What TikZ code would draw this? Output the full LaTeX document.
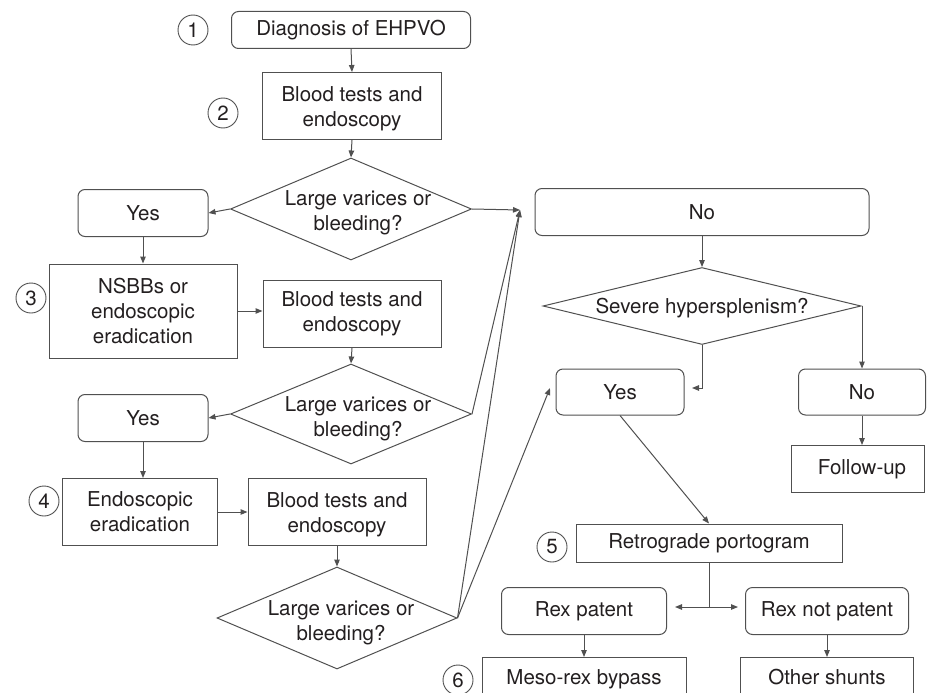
\documentclass[tikz,border=0pt]{standalone}
\usepackage{fontspec}
\setmainfont{TeX Gyre Heros}
\usetikzlibrary{shapes.geometric,arrows.meta}
\definecolor{ln}{HTML}{505050}
\definecolor{tx}{HTML}{231F20}
\begin{document}
\begin{tikzpicture}[x=1pt,y=-1pt,
  font=\fontsize{20.5}{25}\selectfont, text=tx,
  every node/.style={inner sep=0pt, align=center},
  box/.style={draw=ln, line width=1pt, rectangle},
  rbox/.style={draw=ln, line width=1pt, rectangle, rounded corners=7pt},
  dia/.style={draw=ln, line width=1pt, diamond},
  num/.style={draw=ln, line width=0.9pt, circle, minimum size=30pt},
  arr/.style={draw=ln, line width=1pt, -{Triangle[length=7pt,width=5.5pt]}},
  ln/.style={draw=ln, line width=1pt}]
\useasboundingbox (0,0) rectangle (929,693);
\clip (0,0) rectangle (929,693);
% numbers
\node[num] (c1) at (193,30) {1};
\node[num] (c2) at (223,113) {2};
\node[num] (c3) at (31,298) {3};
\node[num] (c4) at (44,501) {4};
\node[num] (c5) at (552,547) {5};
\node[num] (c6) at (458,680) {6};
% left column
\node[rbox, minimum width=239pt, minimum height=37pt] (diag) at (351,30) {Diagnosis of EHPVO};
\node[box, minimum width=179pt, minimum height=67pt] (bt1) at (352,106) {};
\node at (352,109) {Blood tests and\\endoscopy};
\node[dia, minimum width=241pt, minimum height=102pt] (d1) at (351,209) {};
\node at (358,213) {Large varices or\\bleeding?};
\node[rbox, minimum width=130pt, minimum height=47pt] (yes1) at (143,213) {Yes};
\node[box, minimum width=188pt, minimum height=94pt] (nsbb) at (143,311) {NSBBs or\\endoscopic\\eradication};
\node[box, minimum width=178pt, minimum height=67pt] (bt2) at (352,314) {Blood tests and\\endoscopy};
\node[dia, minimum width=241pt, minimum height=100pt] (d2) at (351,414) {};
\node at (358,419) {Large varices or\\bleeding?};
\node[rbox, minimum width=130pt, minimum height=47pt] (yes2) at (143,418) {Yes};
\node[box, minimum width=155pt, minimum height=67pt] (endo) at (140,512) {Endoscopic\\eradication};
\node[box, minimum width=178pt, minimum height=67pt] (bt3) at (337,512) {};
\node at (337,515) {Blood tests and\\endoscopy};
\node[dia, minimum width=240pt, minimum height=102pt] (d3) at (337,618) {};
\node at (341,623) {Large varices or\\bleeding?};
% right part
\node[rbox, minimum width=334pt, minimum height=47pt] (no1) at (702,212) {No};
\node[dia, minimum width=318pt, minimum height=77pt] (hyp) at (702,306) {};
\node at (702,308) {Severe hypersplenism?};
\node[rbox, minimum width=128pt, minimum height=46pt] (yesR) at (620,392) {Yes};
\node[rbox, minimum width=127pt, minimum height=46pt] (noR) at (862,392) {No};
\node[box, minimum width=133pt, minimum height=47pt] (fu) at (858,469) {\hspace{8pt}Follow-up};
\node[box, minimum width=266pt, minimum height=38pt] (ret) at (709,543) {Retrograde portogram};
\node[rbox, minimum width=165pt, minimum height=47pt] (rexp) at (584,611) {Rex patent};
\node[rbox, minimum width=163pt, minimum height=47pt] (rexn) at (827,611) {Rex not patent};
\node[box, minimum width=204pt, minimum height=48pt, anchor=north] (meso) at (584,657) {\raisebox{9pt}{Meso-rex bypass}};
\node[box, minimum width=173pt, minimum height=48pt, anchor=north] (oth) at (827,657) {\raisebox{9pt}{Other shunts}};
% coordinates
\coordinate (conv) at (520,210);
\coordinate (yt) at (550,388);
\coordinate (yk) at (692,388);
\coordinate (br) at (709,607);
% connectors
\draw[arr] (diag.south) -- (bt1.north);
\draw[arr] (bt1.south) -- (d1.north);
\draw[arr] (d1.west) -- (yes1.east);
\draw[arr] (d1.east) -- (conv);
\draw[arr] (yes1.south) -- (nsbb.north);
\draw[arr] (nsbb.east) -- (nsbb.east -| bt2.west);
\draw[arr] (bt2.south) -- (d2.north);
\draw[arr] (d2.west) -- (yes2.east);
\draw[arr] (d2.east) -- (conv);
\draw[arr] (yes2.south) -- (yes2.south |- endo.north);
\draw[arr] (endo.east) -- (bt3.west);
\draw[arr] (bt3.south) -- (d3.north);
\draw[arr] (d3.east) -- (conv);
\draw[arr] (d3.east) -- (yt);
\draw[arr] (no1.south) -- (hyp.north);
\draw[arr] (hyp.south) -- (hyp.south |- yk) -- (yk);
\draw[arr] (hyp.east) -| (noR.north);
\draw[arr] (noR.south) -- (noR.south |- fu.north);
\draw[arr] (yesR.south) -- (ret.north);
\draw[ln] (ret.south) -- (br);
\draw[arr, shorten >=8pt] (br) -- (br -| rexp.east);
\draw[arr, shorten >=7pt] (br) -- (br -| rexn.west);
\draw[arr] (rexp.south) -- (meso.north);
\draw[arr] (rexn.south) -- (oth.north);
\end{tikzpicture}
\end{document}
